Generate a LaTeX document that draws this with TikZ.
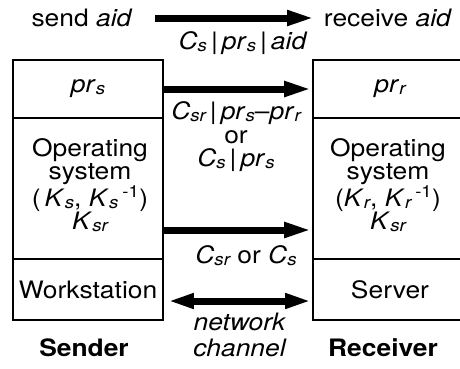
\documentclass[tikz,border=0pt]{standalone}
\usepackage{fontspec}
\setmainfont{TeX Gyre Heros}[FakeStretch=1.1]
\usetikzlibrary{arrows.meta}

\newcommand{\lsub}[1]{\raisebox{-0.15ex}{\fontsize{17}{17}\selectfont\itshape #1}}
\newcommand{\iv}[2]{\textit{#1}\lsub{#2}}

\tikzset{
  layer/.style={draw, line width=1.6pt, inner sep=0pt, align=center},
  txt/.style={inner sep=0pt, align=center},
  msg/.style={line width=7pt, -{Triangle[length=28pt,width=14pt]}},
  chan/.style={line width=7pt, {Triangle[length=26pt,width=14pt]}-{Triangle[length=26pt,width=14pt]}},
}

\begin{document}
\begin{tikzpicture}[x=1pt, y=-1pt, font=\fontsize{24}{23}\selectfont]
        \useasboundingbox (0,0) rectangle (460,368);
        \clip (0,0) rectangle (460,368);

        % Sender stack
        \node[layer, minimum width=150pt, minimum height=58pt] (prs) at (88,89) {\iv{pr}{s}};
        \node[layer, minimum width=150pt, minimum height=141pt] (oss) at (88,188.5) {};
        \node[txt] (osstxt) at (90,185) {Operating\\system\\(\,\iv{K}{s}, \iv{K}{s}\,\textsuperscript{-1})\\\iv{K}{sr}};
        \node[layer, minimum width=150pt, minimum height=61pt] (wks) at (88,289.5) {Workstation};

        % Receiver stack
        \node[layer, minimum width=154pt, minimum height=58pt] (prr) at (390,89) {\iv{pr}{r}};
        \node[layer, minimum width=154pt, minimum height=141pt] (osr) at (390,188.5) {};
        \node[txt] (osrtxt) at (388,185) {Operating\\system\\(\iv{K}{r}, \iv{K}{r}\,\textsuperscript{-1})\\\iv{K}{sr}};
        \node[layer, minimum width=154pt, minimum height=61pt] (srv) at (390,289.5) {Server};

        % Application level
        \node[txt] (snd) at (82,18) {send \textit{aid}};
        \node[txt] (rcv) at (388,18) {receive \textit{aid}};
        \coordinate (apps) at (155,18);
        \coordinate (appr) at (315,18);
        \draw[msg] (apps) -- (appr);
        \node[txt] (m1) at (243,43) {\iv{C}{s}\,|\,\iv{pr}{s}\,|\,\textit{aid}};

        % Messages between layers
        \draw[msg] (prs.east) -- (prr.west);
        \node[txt] (m2) at (236,137) {\iv{C}{sr}\,|\,\iv{pr}{s}--\iv{pr}{r}\\[1pt]or\\\iv{C}{s}\,|\,\iv{pr}{s}};
        \draw[msg] ([yshift=-41.5pt]oss.east) -- ([yshift=-41.5pt]osr.west);
        \node[txt] (m3) at (246,256) {\iv{C}{sr} or \iv{C}{s}};
        \draw[chan] ([xshift=4pt,yshift=-11.5pt]wks.east) -- ([xshift=-1pt,yshift=-11.5pt]srv.west);
        \node[txt] (net) at (240,335) {\textit{network}\\[3pt]\textit{channel}};

        % Labels
        \node[txt, font=\fontsize{24}{23}\selectfont\bfseries] (sender) at (84,348) {Sender};
        \node[txt, font=\fontsize{24}{23}\selectfont\bfseries] (receiver) at (383,348) {Receiver};
    \end{tikzpicture}
\end{document}
